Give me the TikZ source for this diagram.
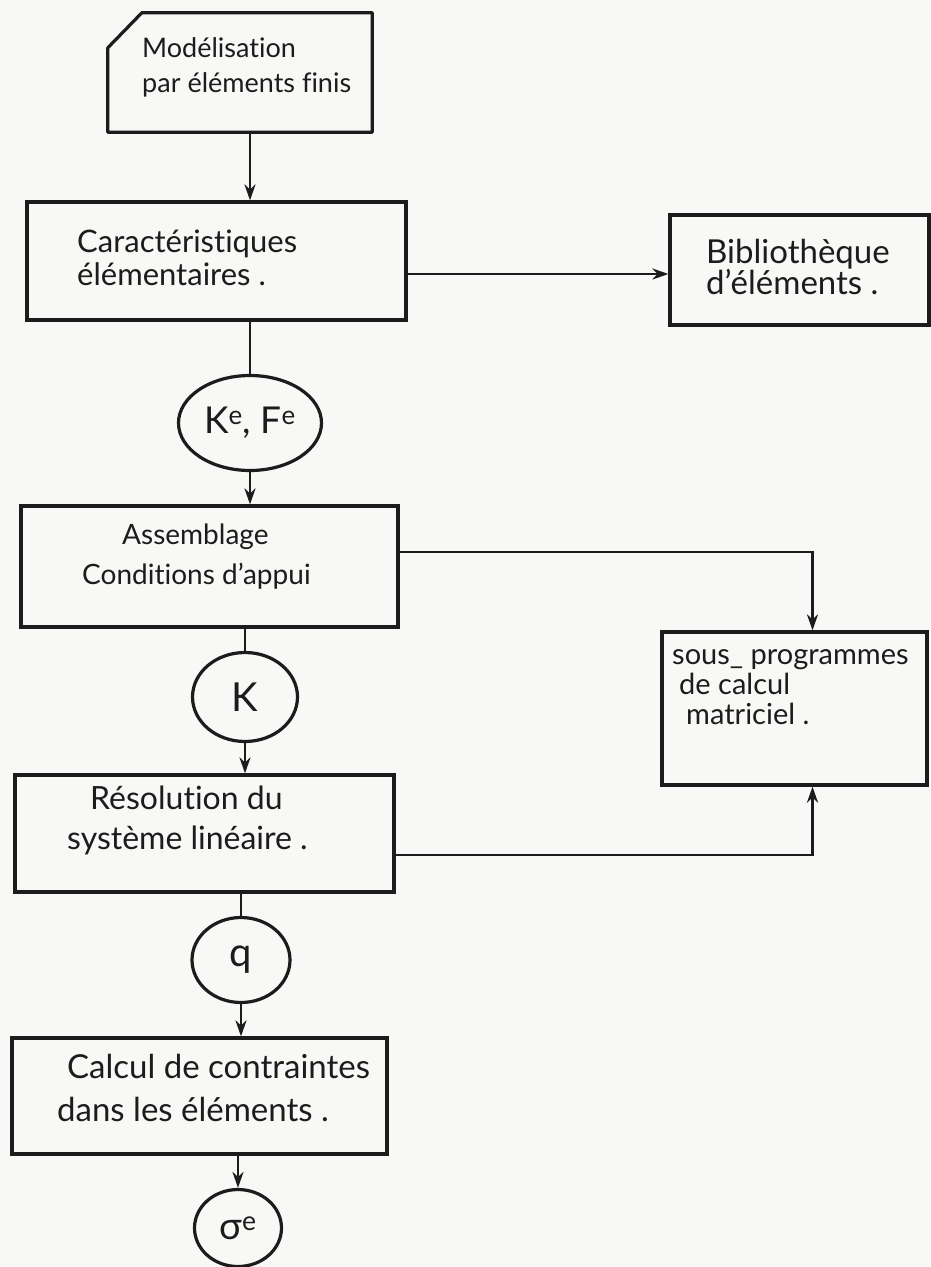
\documentclass[tikz,border=0pt]{standalone}
\usepackage{fontspec}
\setmainfont{Lato}[Ligatures={TeX,NoCommon}]
\usetikzlibrary{arrows.meta,shapes.geometric}
\definecolor{paper}{RGB}{248,248,246}
\definecolor{ink}{RGB}{28,28,28}
\begin{document}
\begin{tikzpicture}[x=1pt,y=-1pt,
  box/.style={draw=ink, line width=3.2pt, rectangle, inner sep=0pt},
  ghost/.style={draw=none, rectangle, inner sep=0pt},
  txt/.style={anchor=west, align=left, inner sep=0pt, text=ink},
  bubble/.style={draw=ink, line width=3.2pt, ellipse, inner sep=0pt, text=ink},
  arr/.style={draw=ink, line width=2.8pt, -{Stealth[length=16pt,width=11pt]}},
  ln/.style={draw=ink, line width=2.8pt}]
\fill[paper] (0,0) rectangle (930,1267);
\useasboundingbox (0,0) rectangle (930,1267);

% boxes
\node[ghost, minimum width=264pt, minimum height=119pt] (n1) at (240,72.5) {};
\draw[ink, line width=3.2pt, line join=round] ([xshift=34pt]n1.north west) -- (n1.north east) -- (n1.south east)
  -- (n1.south west) -- ([yshift=-35pt]n1.north west) -- cycle;
\node[box, minimum width=379pt, minimum height=118pt] (n2) at (216.5,261) {};
\node[box, minimum width=259pt, minimum height=110pt] (n6) at (799.5,270) {};
\node[box, minimum width=377pt, minimum height=121pt] (n3) at (209.5,566.5) {};
\node[box, minimum width=265pt, minimum height=153pt] (n7) at (794.5,708.5) {};
\node[box, minimum width=379pt, minimum height=117pt] (n4) at (204.5,833.5) {};
\node[box, minimum width=375pt, minimum height=116pt] (n5) at (199.5,1096) {};

% circles
\node[bubble, minimum width=143pt, minimum height=95pt] (c1) at (250,423)
  {\fontsize{37}{40}\selectfont K\textsuperscript{e}, F\textsuperscript{e}};
\node[bubble, minimum width=105pt, minimum height=89pt] (c2) at (245,697)
  {\fontsize{40}{44}\selectfont K};
\node[bubble, minimum width=98pt, minimum height=85pt] (c3) at (241,960)
  {\fontsize{40}{44}\selectfont q};
\node[bubble, minimum width=87pt, minimum height=77pt] (c4) at (238,1228)
  {\fontsize{38}{42}\selectfont σ\textsuperscript{e}};

% texts
\node[txt, font=\fontsize{27}{35}\selectfont] (t1) at (142,67)
  {Modélisation\\par éléments finis};
\node[txt, font=\fontsize{31}{33}\selectfont] (t2) at (77,258)
  {Caractéristiques\\élémentaires .};
\node[txt, font=\fontsize{33}{31}\selectfont] (t6) at (706,267)
  {Bibliothèque\\d’éléments .};
\node[txt, font=\fontsize{28}{40}\selectfont] (t3) at (82,557)
  {\hspace*{40pt}Assemblage\\Conditions d’appui};
\node[txt, font=\fontsize{29}{30}\selectfont] (t7) at (672,687)
  {sous\_ programmes\\\hspace*{7pt}de calcul\\\hspace*{14pt}matriciel .};
\node[txt, font=\fontsize{32}{40}\selectfont] (t4) at (67,820)
  {\hspace*{23pt}Résolution du\\système linéaire .};
\node[txt, font=\fontsize{33}{43}\selectfont] (t5) at (57,1088)
  {\hspace*{10pt}Calcul de contraintes\\dans les éléments .};

% main vertical flow
\draw[arr] (n1.south -| c1) -- (n2.north -| c1);
\draw[ln] (n2.south -| c1) -- (c1.north);
\draw[arr] (c1.south) -- (n3.north -| c1);
\draw[ln] (n3.south -| c2) -- (c2.north);
\draw[arr] (c2.south) -- (n4.north -| c2);
\draw[ln] (n4.south -| c3) -- (c3.north);
\draw[arr] (c3.south) -- (n5.north -| c3);
\draw[arr] (n5.south -| c4) -- (c4.north);

% side connectors
\draw[arr] ([yshift=-13pt]n2.east) -- ([yshift=-13pt]n2.east -| n6.west);
\draw[arr] ([yshift=14.5pt]n3.east) -| ([xshift=18pt]n7.north);
\draw[arr] ([yshift=-21.5pt]n4.east) -| ([xshift=18pt]n7.south);
\end{tikzpicture}
\end{document}
